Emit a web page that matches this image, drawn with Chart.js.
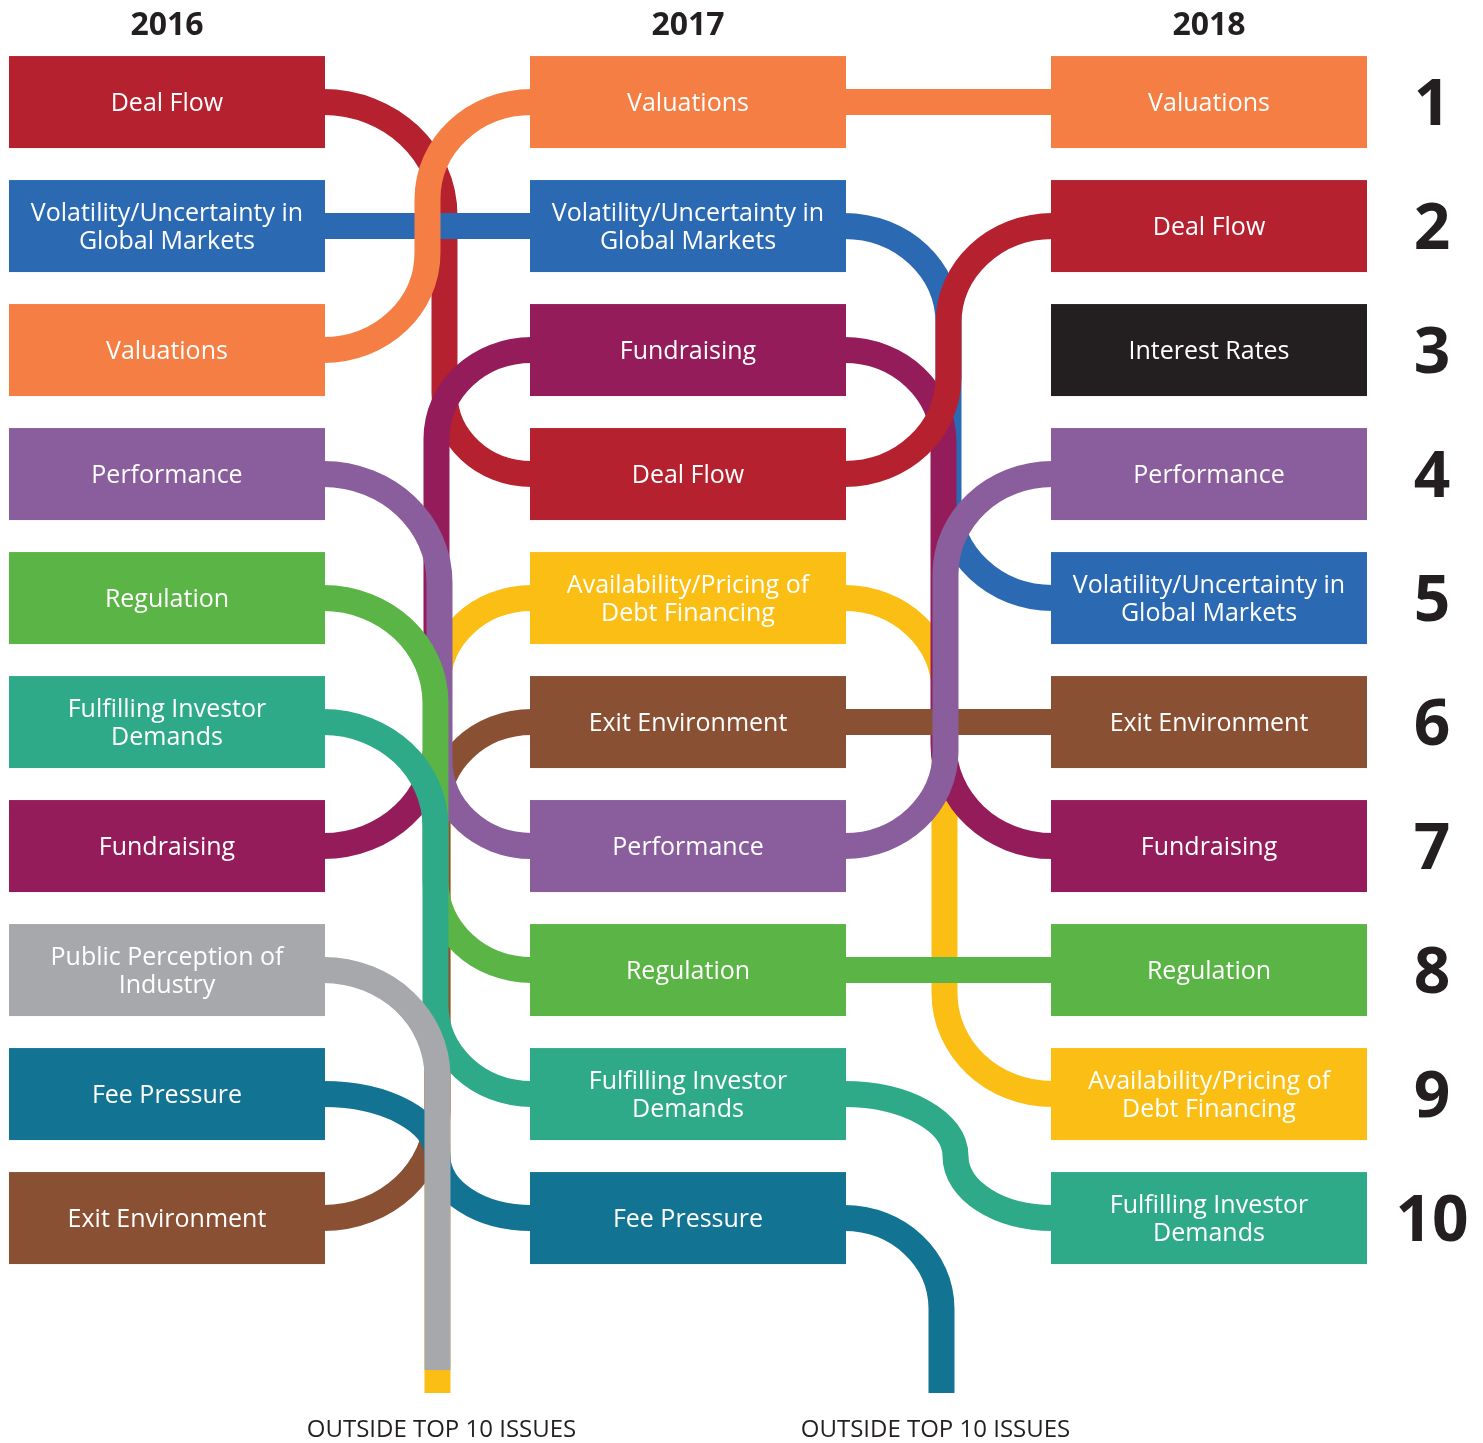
<!DOCTYPE html>
<html>
<head>
<meta charset="utf-8">
<script src="https://cdn.jsdelivr.net/npm/chart.js@4.4.1/dist/chart.umd.min.js"></script>
<style>
  html, body { margin: 0; padding: 0; background: #ffffff; }
  #wrap { width: 1483px; height: 1443px; }
</style>
</head>
<body>
<div id="wrap"><canvas id="rankChart" width="1483" height="1443"></canvas></div>
<script>
// Ranking data (null = outside the top 10)
const years = ['2016', '2017', '2018'];
const issues = [
    'Deal Flow',
    'Volatility/Uncertainty in Global Markets',
    'Valuations',
    'Performance',
    'Regulation',
    'Fulfilling Investor Demands',
    'Fundraising',
    'Public Perception of Industry',
    'Fee Pressure',
    'Exit Environment',
    'Availability/Pricing of Debt Financing',
    'Interest Rates'
];
const rank2016 = [1, 2, 3, 4, 5, 6, 7, 8, 9, 10, null, null];
const rank2017 = [4, 2, 1, 7, 8, 9, 3, null, 10, 6, 5, null];
const rank2018 = [2, 5, 1, 4, 8, 10, 7, null, null, 6, 9, 3];
const rankLabels = ['1', '2', '3', '4', '5', '6', '7', '8', '9', '10'];
const outsideLabel = 'OUTSIDE TOP 10 ISSUES';
const OUT_RANK = 11.41;   // where lines leaving / entering the top 10 end

// Styles
const colors = {
    'Deal Flow': '#b5212e',
    'Volatility/Uncertainty in Global Markets': '#2b6ab2',
    'Valuations': '#f47e43',
    'Performance': '#8a5d9c',
    'Regulation': '#5bb446',
    'Fulfilling Investor Demands': '#2faa88',
    'Fundraising': '#951c5b',
    'Public Perception of Industry': '#a7a8ab',
    'Fee Pressure': '#137392',
    'Exit Environment': '#8a5033',
    'Availability/Pricing of Debt Financing': '#fbbe14',
    'Interest Rates': '#231f20'
};

// vertical lane offsets (px from the middle of each gap) and draw order per gap
const lanes = [
    {
        'Availability/Pricing of Debt Financing': 10,
        'Exit Environment': 10,
        'Deal Flow': 17,
        'Valuations': 0,
        'Fundraising': 9,
        'Performance': 12,
        'Regulation': 8,
        'Fee Pressure': 10,
        'Fulfilling Investor Demands': 8,
        'Public Perception of Industry': 10
    },
    {
        'Availability/Pricing of Debt Financing': -4,
        'Volatility/Uncertainty in Global Markets': 0,
        'Fundraising': -5,
        'Deal Flow': 0,
        'Performance': -3,
        'Fulfilling Investor Demands': 7,
        'Fee Pressure': -7
    }
];
const drawOrder = [
    ['Availability/Pricing of Debt Financing', 'Exit Environment', 'Deal Flow',
     'Volatility/Uncertainty in Global Markets', 'Valuations', 'Fundraising', 'Performance',
     'Regulation', 'Fee Pressure', 'Fulfilling Investor Demands', 'Public Perception of Industry'],
    ['Availability/Pricing of Debt Financing', 'Volatility/Uncertainty in Global Markets',
     'Fundraising', 'Exit Environment', 'Regulation', 'Valuations', 'Deal Flow', 'Performance',
     'Fulfilling Investor Demands', 'Fee Pressure']
];
const tailEnd = { 'Public Perception of Industry': 11.225 };

const BOX_W = 316;
const BOX_H = 92;
const LINE_W = 26;
const K = 0.552;
const TEXT_DARK = '#231f20';

const ranksByYear = [rank2016, rank2017, rank2018];

function wrapText(ctx, text, maxWidth) {
    const words = text.split(' ');
    const lines = [];
    let line = '';
    words.forEach(w => {
        const test = line ? line + ' ' + w : w;
        if (ctx.measureText(test).width > maxWidth && line) {
            lines.push(line);
            line = w;
        } else {
            line = test;
        }
    });
    lines.push(line);
    return lines;
}

// path from box edge (or bottom) through a vertical lane into the next box (or bottom)
function linkPath(ctx, x0, y0, lane, y1, x1, startOutside, endOutside) {
    const s = Math.sign(y1 - y0);
    const half = Math.abs(y1 - y0) / 2;
    ctx.beginPath();
    if (startOutside) {
        ctx.moveTo(lane, y0);
    } else {
        const rx = lane - x0;
        const ry = Math.min(rx * 0.95, endOutside ? rx * 0.95 : half);
        ctx.moveTo(x0 - 2, y0);
        ctx.bezierCurveTo(x0 + K * rx, y0, lane, y0 + s * ry * (1 - K), lane, y0 + s * ry);
    }
    if (endOutside) {
        ctx.lineTo(lane, y1);
    } else {
        const rx = x1 - lane;
        const ry = Math.min(rx * 0.95, startOutside ? rx * 0.95 : half);
        ctx.lineTo(lane, y1 - s * ry);
        ctx.bezierCurveTo(lane, y1 - s * ry * (1 - K), x1 - K * rx, y1, x1 + 2, y1);
    }
    ctx.stroke();
}

const bumpPlugin = {
    id: 'bumpBoxes',
    afterDatasetsDraw(chart) {
        const ctx = chart.ctx;
        const xs = chart.scales.x;
        const ys = chart.scales.y;
        ctx.save();

        // connectors
        ctx.lineWidth = LINE_W;
        ctx.lineCap = 'butt';
        for (let g = 0; g < years.length - 1; g++) {
            const x0 = xs.getPixelForValue(g) + BOX_W / 2;
            const x1 = xs.getPixelForValue(g + 1) - BOX_W / 2;
            const mid = (x0 + x1) / 2;
            drawOrder[g].forEach(name => {
                const i = issues.indexOf(name);
                const r0 = ranksByYear[g][i];
                const r1 = ranksByYear[g + 1][i];
                ctx.strokeStyle = colors[name];
                if (r0 != null && r1 != null && r0 === r1) {
                    const y = ys.getPixelForValue(r0);
                    ctx.beginPath();
                    ctx.moveTo(x0 - 2, y);
                    ctx.lineTo(x1 + 2, y);
                    ctx.stroke();
                    return;
                }
                const off = lanes[g][name];
                if (off === undefined) return;
                const lane = mid + off;
                const y0 = ys.getPixelForValue(r0 != null ? r0 : OUT_RANK);
                const endR = r1 != null ? r1 : (tailEnd[name] || OUT_RANK);
                const y1 = ys.getPixelForValue(endR);
                linkPath(ctx, x0, y0, lane, y1, x1, r0 == null, r1 == null);
            });
        }

        // boxes with labels
        ctx.textAlign = 'center';
        ctx.textBaseline = 'middle';
        ctx.font = '500 25px "Open Sans"';
        ranksByYear.forEach((ranks, c) => {
            const cx = xs.getPixelForValue(c);
            issues.forEach((name, i) => {
                const r = ranks[i];
                if (r == null) return;
                const cy = ys.getPixelForValue(r);
                ctx.fillStyle = colors[name];
                ctx.fillRect(cx - BOX_W / 2, cy - BOX_H / 2, BOX_W, BOX_H);
                ctx.fillStyle = '#ffffff';
                const lines = wrapText(ctx, name, 295);
                const lh = 28.5;
                lines.forEach((ln, k) => {
                    ctx.fillText(ln, cx, cy + 2 + (k - (lines.length - 1) / 2) * lh);
                });
            });
        });

        // year headers
        ctx.fillStyle = TEXT_DARK;
        ctx.font = 'bold 32px "Open Sans"';
        years.forEach((yr, c) => {
            ctx.fillText(yr, xs.getPixelForValue(c), ys.getPixelForValue(1) - 76);
        });

        // rank numbers
        ctx.font = 'bold 64px "Open Sans"';
        rankLabels.forEach((lbl, k) => {
            ctx.fillText(lbl, xs.getPixelForValue(2) + 223, ys.getPixelForValue(k + 1) + 5);
        });

        // outside labels
        ctx.font = '500 24px "Open Sans"';
        const labelOffsets = [14, -13];
        for (let g = 0; g < years.length - 1; g++) {
            const x0 = xs.getPixelForValue(g) + BOX_W / 2;
            const x1 = xs.getPixelForValue(g + 1) - BOX_W / 2;
            ctx.fillText(outsideLabel, (x0 + x1) / 2 + labelOffsets[g], ys.getPixelForValue(OUT_RANK) + 37);
        }
        ctx.restore();
    }
};

const datasets = issues.map((name, i) => ({
    label: name,
    data: ranksByYear.map((ranks, c) => ({ x: c, y: ranks[i] })),
    showLine: false,
    pointRadius: 0,
    backgroundColor: colors[name],
    borderColor: colors[name]
}));

new Chart(document.getElementById('rankChart').getContext('2d'), {
    type: 'scatter',
    data: { datasets: datasets },
    options: {
        responsive: false,
        animation: false,
        devicePixelRatio: 1,
        layout: { padding: 0 },
        plugins: {
            legend: { display: false },
            tooltip: { enabled: false }
        },
        scales: {
            x: { type: 'linear', display: false, min: -0.3205, max: 2.5259 },
            y: { type: 'linear', display: false, reverse: true, min: 0.177, max: 11.814 }
        }
    },
    plugins: [bumpPlugin]
});
</script>
</body>
</html>
